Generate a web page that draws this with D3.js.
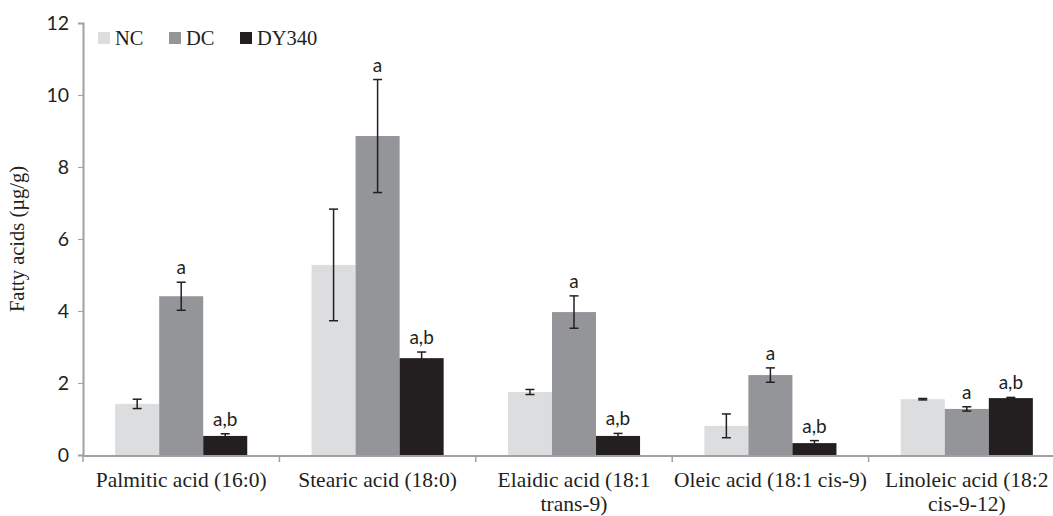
<!DOCTYPE html>
<html>
<head>
<meta charset="utf-8">
<script src="https://cdn.jsdelivr.net/npm/d3@7"></script>
<style>
  body { margin: 0; background: #fff; }
  svg { display: block; }
  .serif { font-family: "Liberation Serif", "Times New Roman", serif; fill: #231f20; }
  .sans { font-family: Lato, "Open Sans", sans-serif; fill: #231f20; }
</style>
</head>
<body>
<svg id="chart" width="1053" height="516"></svg>
<script>
// chart data
let categories = [
  ["Palmitic acid (16:0)"],
  ["Stearic acid (18:0)"],
  ["Elaidic acid (18:1", "trans-9)"],
  ["Oleic acid (18:1 cis-9)"],
  ["Linoleic acid (18:2", "cis-9-12)"]
];
let groups = ["NC", "DC", "DY340"];
let colors = ["#dcdddf", "#939598", "#231f20"];

let ncValues = [1.42, 5.28, 1.75, 0.81, 1.55];
let ncErrors = [0.13, 1.55, 0.07, 0.33, 0.02];
let dcValues = [4.41, 8.86, 3.97, 2.22, 1.28];
let dcErrors = [0.39, 1.57, 0.45, 0.2, 0.06];
let dyValues = [0.53, 2.69, 0.53, 0.33, 1.58];
let dyErrors = [0.06, 0.17, 0.07, 0.07, 0.02];

let dcLabels = ["a", "a", "a", "a", "a"];
let dyLabels = ["a,b", "a,b", "a,b", "a,b", "a,b"];

let yTicks = [0, 2, 4, 6, 8, 10, 12];

let margin = {left: 83, top: 23, bottom: 61},
  width = 1053, height = 516,
  plotWidth = 982;

let svg = d3.select("#chart");

let x0 = d3.scaleBand()
  .domain(d3.range(categories.length))
  .range([margin.left, margin.left + plotWidth]);

// three bars of ~44px centred in each category
let x1 = d3.scaleBand()
  .domain(groups)
  .range([0, x0.bandwidth()])
  .paddingOuter(0.73)
  .paddingInner(0);

let y = d3.scaleLinear()
  .domain([0, 12])
  .range([height - margin.bottom, margin.top]);

// build rows for bars
let series = [
  {values: ncValues, errors: ncErrors, labels: null},
  {values: dcValues, errors: dcErrors, labels: dcLabels},
  {values: dyValues, errors: dyErrors, labels: dyLabels}
];
let rows = [];
series.forEach(function(s, gi) {
  s.values.forEach(function(v, ci) {
    rows.push({
      cat: ci, group: groups[gi], color: colors[gi], value: v,
      err: s.errors[ci], label: s.labels ? s.labels[ci] : null
    });
  });
});

// y axis
let yAxis = svg.append("g")
  .attr("transform", "translate(" + margin.left + ",0)")
  .call(d3.axisLeft(y).tickValues(yTicks).tickSize(5).tickPadding(9));
yAxis.select(".domain").attr("stroke", "#a0a0a2").attr("stroke-width", 2);
yAxis.selectAll(".tick line").attr("stroke", "#a0a0a2");
yAxis.selectAll(".tick text")
  .attr("class", "sans")
  .style("font-size", "19.5px");

// bars
svg.append("g").selectAll("rect")
  .data(rows)
  .join("rect")
  .attr("x", function(d) { return x0(d.cat) + x1(d.group); })
  .attr("width", x1.bandwidth())
  .attr("y", function(d) { return y(d.value); })
  .attr("height", function(d) { return y(0) - y(d.value); })
  .attr("fill", function(d) { return d.color; });

// error bars
let errG = svg.append("g").attr("stroke", "#231f20").attr("stroke-width", 1.5);
rows.forEach(function(d) {
  let cx = x0(d.cat) + x1(d.group) + x1.bandwidth() / 2;
  let top = y(d.value + d.err), bot = y(d.value - d.err);
  errG.append("line").attr("x1", cx).attr("x2", cx).attr("y1", top).attr("y2", bot);
  errG.append("line").attr("x1", cx - 4.5).attr("x2", cx + 4.5).attr("y1", top).attr("y2", top);
  errG.append("line").attr("x1", cx - 4.5).attr("x2", cx + 4.5).attr("y1", bot).attr("y2", bot);
});

// significance letters
svg.append("g").selectAll("text")
  .data(rows.filter(function(d) { return d.label; }))
  .join("text")
  .attr("class", "sans")
  .attr("x", function(d) { return x0(d.cat) + x1(d.group) + x1.bandwidth() / 2; })
  .attr("y", function(d) { return y(d.value + d.err) - 8; })
  .attr("text-anchor", "middle")
  .style("font-size", "19px")
  .text(function(d) { return d.label; });

// x axis
let xAxisG = svg.append("g");
xAxisG.append("line")
  .attr("x1", margin.left).attr("x2", margin.left + plotWidth)
  .attr("y1", y(0) + 1).attr("y2", y(0) + 1)
  .attr("stroke", "#a0a0a2").attr("stroke-width", 2);
xAxisG.selectAll(".xtick")
  .data(d3.range(categories.length + 1))
  .join("line")
  .attr("x1", function(i) { return margin.left + i * x0.bandwidth(); })
  .attr("x2", function(i) { return margin.left + i * x0.bandwidth(); })
  .attr("y1", y(0) + 1).attr("y2", y(0) + 7)
  .attr("stroke", "#a0a0a2").attr("stroke-width", 1.5);

let xLabels = xAxisG.selectAll(".xlabel")
  .data(categories)
  .join("text")
  .attr("class", "serif")
  .attr("text-anchor", "middle")
  .style("font-size", "21.5px")
  .attr("x", function(d, i) { return x0(i) + x0.bandwidth() / 2; })
  .attr("y", y(0) + 32);
xLabels.selectAll("tspan")
  .data(function(d) { return d; })
  .join("tspan")
  .attr("x", function() { return this.parentNode.getAttribute("x"); })
  .attr("dy", function(d, i) { return i === 0 ? 0 : 24; })
  .text(function(d) { return d; });

// y axis title
svg.append("text")
  .attr("class", "serif")
  .attr("transform", "translate(24," + y(6) + ") rotate(-90)")
  .attr("text-anchor", "middle")
  .style("font-size", "20.5px")
  .text("Fatty acids (µg/g)");

// legend
let legend = svg.append("g").attr("transform", "translate(98,32)");
let legendX = [0, 71, 142];
groups.forEach(function(g, i) {
  legend.append("rect")
    .attr("x", legendX[i]).attr("y", 0)
    .attr("width", 12).attr("height", 12)
    .attr("fill", colors[i]);
  legend.append("text")
    .attr("class", "serif")
    .attr("x", legendX[i] + 17).attr("y", 13)
    .style("font-size", "20.5px")
    .text(g);
});
</script>
</body>
</html>
